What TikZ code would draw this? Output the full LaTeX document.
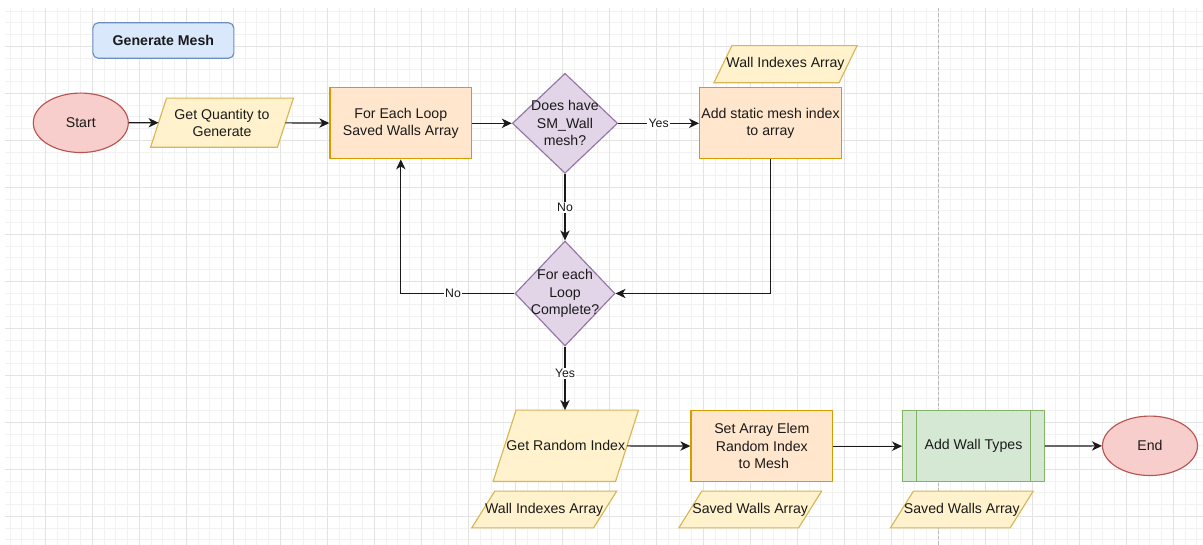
\documentclass[tikz,border=0pt]{standalone}
\usepackage{fontspec}
\setmainfont{Liberation Sans}
\usetikzlibrary{arrows.meta,shapes.geometric,backgrounds,calc}

\definecolor{bluefill}{HTML}{DAE8FC}\definecolor{blueline}{HTML}{6C8EBF}
\definecolor{redfill}{HTML}{F8CECC}\definecolor{redline}{HTML}{B85450}
\definecolor{yelfill}{HTML}{FFF2CC}\definecolor{yelline}{HTML}{D6B656}
\definecolor{orafill}{HTML}{FFE6CC}\definecolor{oraline}{HTML}{D79B00}
\definecolor{purfill}{HTML}{E1D5E7}\definecolor{purline}{HTML}{9673A6}
\definecolor{grnfill}{HTML}{D5E8D4}\definecolor{grnline}{HTML}{82B366}
\definecolor{gridminor}{HTML}{F2F2F2}\definecolor{gridmajor}{HTML}{E3E3E3}
\definecolor{inkcol}{HTML}{1A1A1A}

\tikzset{
  base/.style={font=\fontsize{10.6}{13.1}\selectfont, text=inkcol, align=center,
    inner sep=1pt, line width=0.85pt},
  titlebox/.style={base, rectangle, rounded corners=4pt, draw=blueline, fill=bluefill,
    minimum width=105.75pt, minimum height=26.6pt, font=\fontsize{10.6}{13.1}\selectfont\bfseries},
  terminal/.style={base, ellipse, draw=redline, fill=redfill,
    minimum width=71.25pt, minimum height=44.6pt},
  procbox/.style={base, rectangle, draw=oraline, fill=orafill,
    minimum width=106.3pt, minimum height=53.25pt},
  subproc/.style={base, rectangle, draw=grnline, fill=grnfill,
    minimum width=106.3pt, minimum height=53.25pt},
  decision/.style={base, diamond, draw=purline, fill=purfill, inner sep=0pt},
  databox/.style={base, rectangle, draw=none, fill=none},
  datashape/.style={draw=yelline, fill=yelfill, line width=0.85pt, line join=miter},
  conn/.style={draw=inkcol, line width=0.85pt,
    -{Stealth[length=7.5pt,width=7pt,inset=2.2pt]}},
  lbl/.style={fill=white, font=\fontsize{9.2}{11}\selectfont, text=inkcol, inner sep=1pt},
  minorline/.style={draw=gridminor, line width=0.6pt},
  majorline/.style={draw=gridmajor, line width=0.6pt},
}

\begin{document}
\begin{tikzpicture}[x=0.75pt,y=-0.75pt]
\useasboundingbox (0,0) rectangle (1203,545);

% sheet and grid
\begin{scope}[on background layer]
  \fill[white] (0,0) rectangle (1203,545);
  \foreach \i in {-3,...,98}
    \draw[minorline] ({45.3+11.75*\i},8) -- ({45.3+11.75*\i},545);
  \foreach \j in {-3,...,42}
    \draw[minorline] (5,{46.3+11.75*\j}) -- (1203,{46.3+11.75*\j});
  \foreach \i in {0,...,24}
    \draw[majorline] ({45.3+47*\i},8) -- ({45.3+47*\i},545);
  \foreach \j in {0,...,10}
    \draw[majorline] (5,{46.3+47*\j}) -- (1203,{46.3+47*\j});
  % page break
  \draw[draw=gray!55, line width=0.6pt, dash pattern=on 2.5pt off 1.5pt] (938.6,8) -- (938.6,545);
\end{scope}

% title
\node[titlebox] (title) at (163.4,40.5) {Generate Mesh};

% top row
\node[terminal] (start) at (80.8,122.8) {Start};
\node[databox, minimum width=94.3pt, minimum height=36pt] (qty) at (222,122.7) {Get Quantity to\\Generate};
\node[procbox] (loop) at (400.8,123.3) {For Each Loop\\Saved Walls Array};
\node[decision, minimum width=79pt, minimum height=75pt,
  label={[base, align=center]center:Does have\\SM\_Wall\\mesh?}] (hasmesh) at (565,123.3) {};
\node[procbox] (addidx) at (770.5,123.3) {Add static mesh index\\to array};
\node[databox, minimum width=93pt, minimum height=27pt] (idxtop) at (785.5,64.2) {Wall Indexes Array};

% loop check
\node[decision, minimum width=75pt, minimum height=78.75pt,
  label={[base, align=center]center:For each\\Loop\\Complete?}] (done) at (565,293.5) {};

% bottom row
\node[databox, minimum width=89pt, minimum height=52.7pt] (rand) at (565.8,445.8) {Get Random Index};
\node[procbox] (setel) at (761.8,446.2) {Set Array Elem\\Random Index\\\ to Mesh};
\node[subproc] (types) at (973.5,446.2) {Add Wall Types};
\node[terminal] (finish) at (1150,445.8) {End};
\node[databox, minimum width=89pt, minimum height=26.7pt] (idxbot) at (544.2,509.5) {Wall Indexes Array};
\node[databox, minimum width=89pt, minimum height=26.7pt] (savedmid) at (750.2,509.5) {Saved Walls Array};
\node[databox, minimum width=89pt, minimum height=26.7pt] (savedend) at (961.8,509.5) {Saved Walls Array};

% side bars of the predefined process
\draw[draw=grnline, line width=0.85pt] ([xshift=10.95pt]types.north west) -- ([xshift=10.95pt]types.south west);
\draw[draw=grnline, line width=0.85pt] ([xshift=-10.95pt]types.north east) -- ([xshift=-10.95pt]types.south east);

% data (parallelogram) outlines behind their labels
\begin{scope}[on background layer]
  \foreach \n/\s in {qty/12pt, idxtop/13.5pt, rand/17.25pt, idxbot/17.25pt, savedmid/17.25pt, savedend/17.25pt}
    \draw[datashape] ([xshift=\s/2]\n.north west) -- ([xshift=\s/2]\n.north east)
      -- ([xshift=-\s/2]\n.south east) -- ([xshift=-\s/2]\n.south west) -- cycle;
\end{scope}

% connectors
\draw[conn] (start) -- (qty);
\draw[conn] (qty) -- (loop);
\draw[conn] (loop) -- (hasmesh);
\draw[conn] (hasmesh) -- node[lbl] {Yes} (addidx);
\draw[conn] (hasmesh) -- node[lbl] {No} (done);
\draw[conn] (addidx.south) |- (done.east);
\draw[conn] (done.west) -| node[lbl, pos=0.27] {No} (loop.south);
\draw[conn] (done.south) -- node[lbl, pos=0.42] {Yes} (done.south |- rand.north);
\draw[conn] (rand) -- (setel);
\draw[conn] (setel) -- (types);
\draw[conn] (types) -- (finish);
\end{tikzpicture}
\end{document}
